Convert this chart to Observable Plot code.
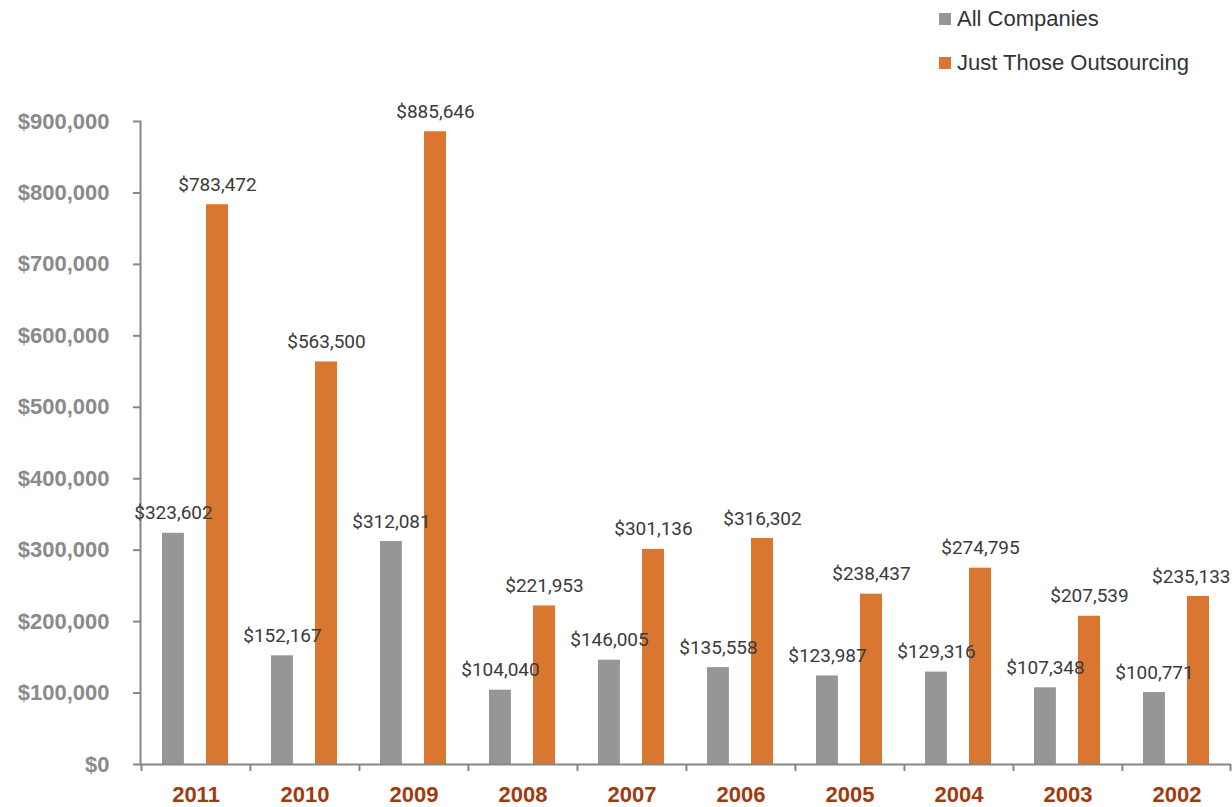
<!DOCTYPE html>
<html>
<head>
<meta charset="utf-8">
<script src="https://cdn.jsdelivr.net/npm/d3@7"></script>
<script src="https://cdn.jsdelivr.net/npm/@observablehq/plot@0.6"></script>
<style>
  html, body { margin: 0; padding: 0; background: #fff; }
  #wrap { position: relative; width: 1232px; height: 807px; overflow: hidden; }
  #legend { position: relative; height: 90px; font-family: "Liberation Sans", Arial, sans-serif; font-size: 22px; color: #333; }
  .item { position: absolute; left: 939px; display: flex; align-items: center; }
  .sw { width: 12px; height: 12px; margin-right: 6px; }
  svg { display: block; }
</style>
</head>
<body>
<div id="wrap">
  <div id="legend"></div>
  <div id="chart"></div>
</div>
<script>
const years = ["2011", "2010", "2009", "2008", "2007", "2006", "2005", "2004", "2003", "2002"];
const allCompanies = [323602, 152167, 312081, 104040, 146005, 135558, 123987, 129316, 107348, 100771];
const outsourcing = [783472, 563500, 885646, 221953, 301136, 316302, 238437, 274795, 207539, 235133];
const seriesNames = ["All Companies", "Just Those Outsourcing"];
const seriesColors = ["#969696", "#D97731"];
const yTicks = [0, 100000, 200000, 300000, 400000, 500000, 600000, 700000, 800000, 900000];

const W = 1232, H = 717, mL = 140, mR = 1, mT = 31, mB = 43;
const band = (W - mL - mR) / years.length;
const grayIn = [21, band - 43];
const orangeIn = [65, 22];
const grayDx = 21 + 11 - band / 2;
const orangeDx = 65 + 11 - band / 2;

const rowsA = years.map((y, i) => ({year: y, value: allCompanies[i]}));
const rowsB = years.map((y, i) => ({year: y, value: outsourcing[i]}));
const fmt = v => "$" + d3.format(",")(v);

// legend
const legend = document.getElementById("legend");
seriesNames.forEach((n, i) => {
  const d = document.createElement("div");
  d.className = "item";
  d.style.top = (i === 0 ? 6 : 50) + "px";
  d.innerHTML = `<span class="sw" style="background:${seriesColors[i]}"></span><span>${n}</span>`;
  legend.appendChild(d);
});

const axisColor = "#868686";
const labelStyle = {fill: "#3a3a3a", fontSize: 19, fontFamily: "Roboto, sans-serif"};
const chart = Plot.plot({
  width: W, height: H,
  marginLeft: mL, marginRight: mR, marginTop: mT, marginBottom: mB,
  x: {domain: years, padding: 0, axis: null, label: null},
  y: {domain: [0, 900000], axis: null, label: null},
  marks: [
    Plot.barY(rowsA, {x: "year", y: "value", fill: seriesColors[0], insetLeft: grayIn[0], insetRight: grayIn[1]}),
    Plot.barY(rowsB, {x: "year", y: "value", fill: seriesColors[1], insetLeft: orangeIn[0], insetRight: orangeIn[1]}),
    Plot.ruleY([0], {stroke: axisColor, strokeWidth: 2}),
    Plot.frame({anchor: "left", stroke: axisColor, strokeWidth: 2}),
    Plot.ruleX(years, {x: d => d, y1: 0, y2: 0, insetBottom: -7, dx: -band / 2, stroke: axisColor, strokeWidth: 2}),
    Plot.ruleX(years.slice(-1), {x: d => d, y1: 0, y2: 0, insetBottom: -7, dx: band / 2 - 1, stroke: axisColor, strokeWidth: 2}),
    Plot.axisY({ticks: yTicks, tickFormat: fmt, tickSize: 7, tickPadding: 24, stroke: axisColor, strokeWidth: 2, label: null,
      fill: "#8a8a8a", fontWeight: "bold", fontSize: 22, fontFamily: "Liberation Sans, Arial, sans-serif"}),
    Plot.axisX({tickSize: 0, tickPadding: 22, label: null, fill: "#A33A0E", fontWeight: "bold", fontSize: 22, fontFamily: "Liberation Sans, Arial, sans-serif"}),
    Plot.text(rowsA, {x: "year", y: "value", text: d => fmt(d.value), dx: grayDx, dy: -20, ...labelStyle}),
    Plot.text(rowsB.slice(0, -1), {x: "year", y: "value", text: d => fmt(d.value), dx: orangeDx, dy: -20, ...labelStyle}),
    Plot.text(rowsB.slice(-1), {x: "year", y: "value", text: d => fmt(d.value), dx: band / 2 - 1, dy: -20, textAnchor: "end", ...labelStyle})
  ]
});
document.getElementById("chart").appendChild(chart);
</script>
</body>
</html>
